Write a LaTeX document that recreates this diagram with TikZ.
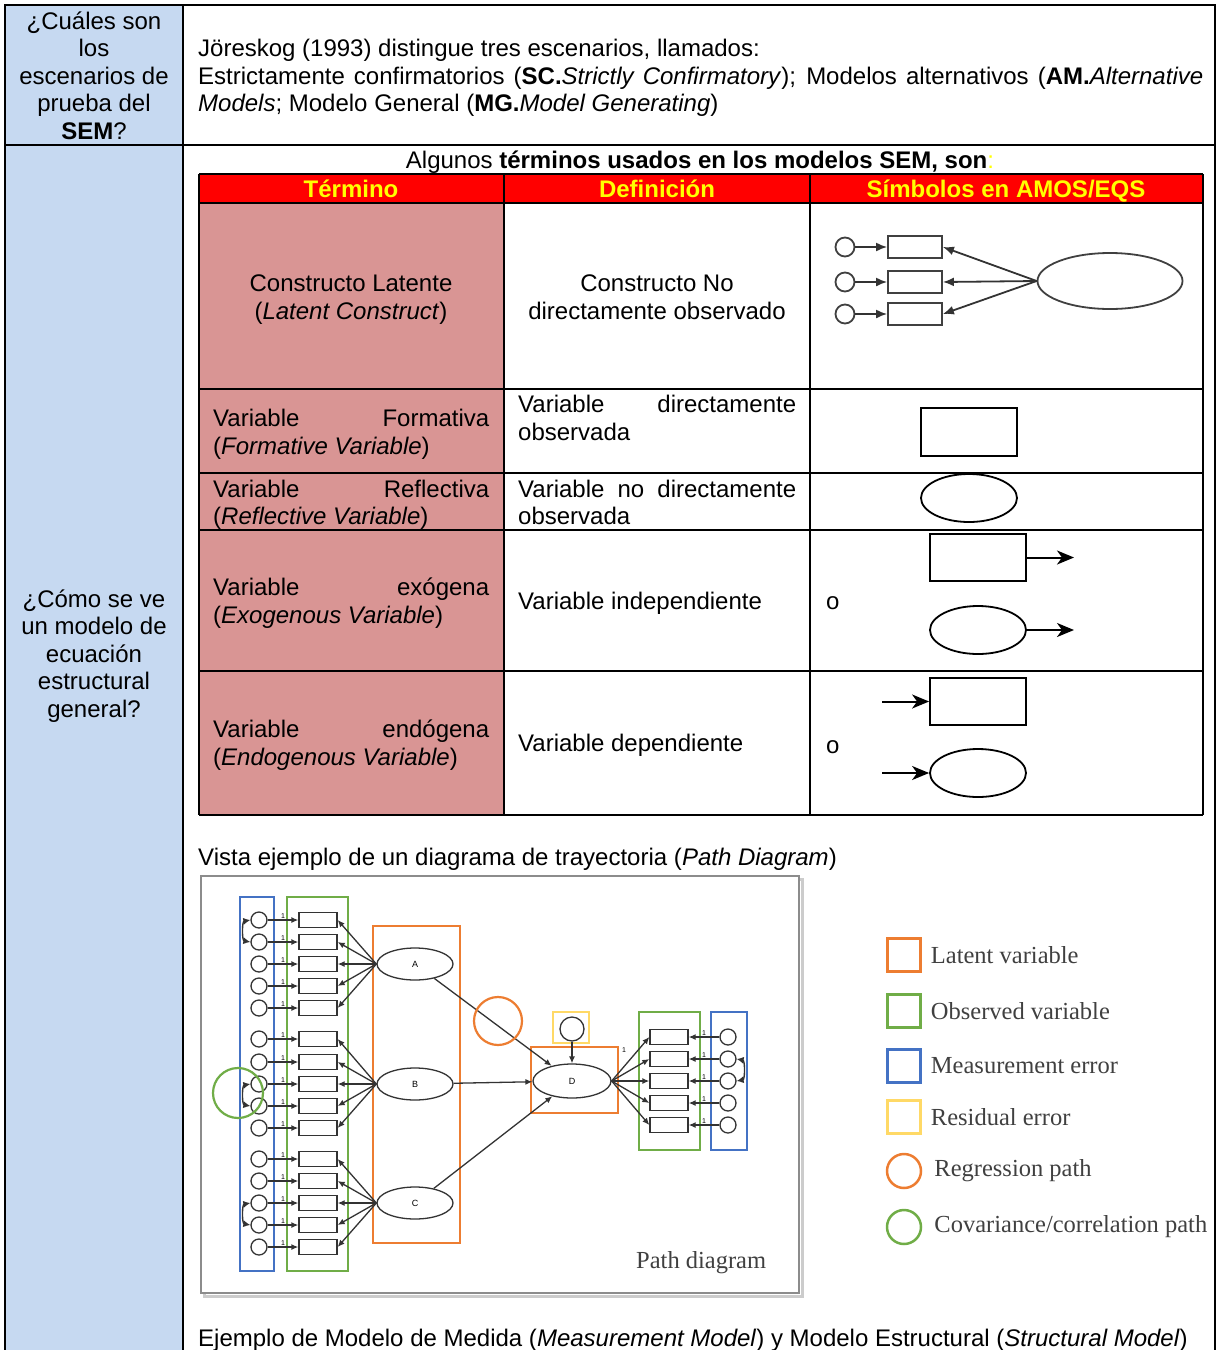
\documentclass[tikz,border=0pt]{standalone}
\usepackage{fontspec}
\setmainfont{Liberation Sans}
\newfontfamily\legendfont{Liberation Serif}
\usetikzlibrary{arrows,arrows.meta,positioning,calc,shapes.geometric}

\definecolor{cellblue}{HTML}{C6D9F1}
\definecolor{cellpink}{HTML}{D99594}
\definecolor{headred}{HTML}{FF0000}
\definecolor{headyellow}{HTML}{FFFF00}
\definecolor{latorange}{HTML}{ED7D31}
\definecolor{obsgreen}{HTML}{70AD47}
\definecolor{errblue}{HTML}{4472C4}
\definecolor{resyellow}{HTML}{FFD966}

\tikzset{
  rule/.style={line width=2pt},
  txt/.style={inner sep=0pt, anchor=base, font=\fontsize{24}{27.6}\selectfont},
  txtl/.style={txt, anchor=base west},
  hdr/.style={txt, text=headyellow, font=\fontsize{24}{27.6}\selectfont\bfseries},
  sym/.style={draw, line width=1.8pt, inner sep=0pt},
  symarr/.style={line width=2pt, -{Stealth[length=17pt,width=14pt,inset=5pt]}},
  amosobs/.style={draw=black!75, line width=1.8pt, rectangle, inner sep=0pt, minimum width=54pt, minimum height=22pt},
  amoserr/.style={draw=black!75, line width=1.8pt, circle, inner sep=0pt, minimum size=19pt},
  amosarr/.style={black!80, line width=1.8pt, -{Latex[length=11pt,width=9pt]}},
  pobs/.style={draw=black!80, line width=1.3pt, rectangle, inner sep=0pt, minimum width=38pt, minimum height=15pt},
  perr/.style={draw=black!80, line width=1.3pt, circle, inner sep=0pt, minimum size=16pt},
  plat/.style={draw=black!80, line width=1.3pt, ellipse, inner sep=0pt, minimum width=76pt, minimum height=32pt, font=\fontsize{9}{10}\selectfont},
  parr/.style={draw=black!80, line width=1.3pt, -{Latex[length=7pt,width=6pt]}},
  pcov/.style={draw=black!80, line width=1.4pt, {Latex[length=7pt,width=7pt]}-{Latex[length=7pt,width=7pt]}},
  one/.style={font=\fontsize{7}{8}\selectfont, inner sep=1pt},
  frame/.style={line width=2.5pt},
  keytext/.style={inner sep=0pt, text=black!75, font=\legendfont\fontsize{24.5}{28}\selectfont}
}

\begin{document}
\begin{tikzpicture}[x=1pt,y=-1pt]
\useasboundingbox (0,0) rectangle (1217,1350);

% outer table
\fill[cellblue] (5,5) rectangle (183,1352);
\draw[rule] (5,1352) -- (5,5) -- (1215,5) -- (1215,1352);
\draw[rule] (183,5) -- (183,1352);
\draw[rule] (5,145) -- (1215,145);

\foreach \t [count=\i] in {¿Cuáles son,los,escenarios de,prueba del,\textbf{SEM}?}
  \node[txt] (ask\i) at (94,{29+27.5*(\i-1)}) {\t};
\foreach \t [count=\i] in {¿Cómo se ve,un modelo de,ecuación,estructural,general?}
  \node[txt] (how\i) at (94,{607+27.5*(\i-1)}) {\t};

\node[txtl] (jor1) at (198,56) {Jöreskog (1993) distingue tres escenarios, llamados:};
\node[txtl] (jor2) at (198,84) {\makebox[1005pt][s]{Estrictamente confirmatorios (\textbf{SC.}\textit{Strictly Confirmatory}); Modelos alternativos (\textbf{AM.}\textit{Alternative}}};
\node[txtl] (jor3) at (198,111) {\textit{Models}; Modelo General (\textbf{MG.}\textit{Model Generating})};

\node[txt] (terms) at (700,168) {Algunos \textbf{términos usados en los modelos SEM, son}\textcolor{headyellow}{:}};

% inner table
\fill[headred] (199,174) rectangle (1203,203);
\fill[cellpink] (199,203) rectangle (504,815);
\foreach \y in {174,203,389,473,530,671,815}
  \draw[rule] (199,\y) -- (1203,\y);
\foreach \x in {199,504,810,1203}
  \draw[rule] (\x,174) -- (\x,815);

\foreach \x/\t [count=\i] in {351/Término,657/Definición,1006/{Símbolos en AMOS/EQS}}
  \node[hdr] (head\i) at (\x,197) {\t};

\node[txt] (lat1) at (351,291) {Constructo Latente};
\node[txt] (lat2) at (351,319) {(\textit{Latent Construct})};
\node[txt] (latd1) at (657,291) {Constructo No};
\node[txt] (latd2) at (657,319) {directamente observado};

\node[txtl] (form1) at (213,426) {\makebox[276pt][s]{Variable Formativa}};
\node[txtl] (form2) at (213,454) {(\textit{Formative Variable})};
\node[txtl] (formd1) at (518,412) {\makebox[278pt][s]{Variable directamente}};
\node[txtl] (formd2) at (518,440) {observada};

\node[txtl] (refl1) at (213,497) {\makebox[276pt][s]{Variable Reflectiva}};
\node[txtl] (refl2) at (213,524) {(\textit{Reflective Variable})};
\node[txtl] (refld1) at (518,497) {\makebox[278pt][s]{Variable no directamente}};
\node[txtl] (refld2) at (518,524) {observada};

\node[txtl] (exo1) at (213,595) {\makebox[276pt][s]{Variable exógena}};
\node[txtl] (exo2) at (213,623) {(\textit{Exogenous Variable})};
\node[txtl] (exod) at (518,609) {Variable independiente};
\node[txtl] (exoor) at (826,609) {o};

\node[txtl] (endo1) at (213,737) {\makebox[276pt][s]{Variable endógena}};
\node[txtl] (endo2) at (213,765) {(\textit{Endogenous Variable})};
\node[txtl] (endod) at (518,751) {Variable dependiente};
\node[txtl] (endoor) at (826,753) {o};

% AMOS symbols
\node[amosobs, ellipse, minimum width=145pt, minimum height=56pt] (cons) at (1110,281) {};
\foreach \y [count=\i] in {247,282,314} {
  \node[amoserr] (ce\i) at (845,\y) {};
  \node[amosobs] (cm\i) at (915,\y) {};
  \draw[amosarr] (ce\i) -- (cm\i);
  \draw[amosarr] (cons.west) -- (cm\i.east);
}
\node[sym, rectangle, minimum width=96pt, minimum height=48pt] (formbox) at (969,432) {};
\node[sym, ellipse, minimum width=96pt, minimum height=48pt] (reflell) at (969,498) {};
\node[sym, rectangle, minimum width=96pt, minimum height=47pt] (exobox) at (978,557.5) {};
\node[sym, ellipse, minimum width=96pt, minimum height=48pt] (exoell) at (978,630) {};
\coordinate (exoboxend) at (1074,557.5);
\coordinate (exoellend) at (1074,630);
\draw[symarr] (exobox) -- (exoboxend);
\draw[symarr] (exoell) -- (exoellend);
\node[sym, rectangle, minimum width=96pt, minimum height=47pt] (endbox) at (978,701.5) {};
\node[sym, ellipse, minimum width=96pt, minimum height=48pt] (endell) at (978,773) {};
\coordinate (endboxstart) at (882,701.5);
\coordinate (endellstart) at (882,773);
\draw[symarr] (endboxstart) -- (endbox);
\draw[symarr] (endellstart) -- (endell);

\node[txtl] (vista) at (198,865) {Vista ejemplo de un diagrama de trayectoria (\textit{Path Diagram})};

% path diagram
\draw[black!20, line width=3pt] (204,879) rectangle (802,1296);
\draw[black!45, line width=1.5pt, fill=white] (201,876) rectangle (799,1293);

\draw[frame, errblue] (240,897) rectangle (274,1271);
\draw[frame, obsgreen] (287,897) rectangle (348,1271);
\draw[frame, latorange] (373,926) rectangle (460,1243);

\foreach \lv/\ly/\ys in {A/964/{920,942,964,986,1008},B/1084/{1039,1062,1084,1106,1128},C/1203/{1159,1181,1203,1225,1247}} {
  \node[plat] (l\lv) at (415,\ly) {\lv};
  \foreach \y [count=\i] in \ys {
    \node[perr] (e\lv\i) at (259,\y) {};
    \node[pobs] (x\lv\i) at (318,\y) {};
    \draw[parr] (e\lv\i) -- (x\lv\i) node[one, midway, above] (o\lv\i) {1};
    \draw[parr] (l\lv.west) -- (x\lv\i.east);
  }
}
\draw[pcov] (eA1.west) to[bend right=80] (eA2.west);
\draw[pcov] (eB3.west) to[bend right=80] (eB4.west);
\draw[pcov] (eC3.west) to[bend right=80] (eC4.west);

\node[draw=obsgreen, line width=2.2pt, circle, minimum size=50pt] (covmark) at (238,1093) {};

\node[plat, minimum width=78pt, minimum height=34pt] (lD) at (572,1081) {D};
\draw[frame, latorange] (531,1047) rectangle (618,1113);
\draw[frame, resyellow] (553,1012) rectangle (589,1043);
\node[perr, minimum size=24pt] (res) at (572,1029) {};
\draw[parr] (res) -- (lD);
\foreach \lv in {A,B,C}
  \draw[parr] (l\lv) -- (lD);
\node[draw=latorange, line width=2.2pt, circle, minimum size=48pt] (regmark) at (498,1021) {};

\draw[frame, obsgreen] (639,1012) rectangle (700,1150);
\draw[frame, errblue] (711,1012) rectangle (747,1150);
\foreach \y [count=\i] in {1037,1059,1081,1103,1125} {
  \node[pobs] (xD\i) at (669,\y) {};
  \node[perr] (eD\i) at (728,\y) {};
  \draw[parr] (lD.east) -- (xD\i.west);
  \draw[parr] (eD\i) -- (xD\i) node[one, midway, above] (oD\i) {1};
}
\node[one] (oDl) at (624,1050) {1};
\draw[pcov] (eD2.east) to[bend left=80] (eD3.east);

\node[keytext, anchor=base west] (pathlbl) at (636,1268) {Path diagram};

% legend
\foreach \y/\c/\t [count=\i] in {955/latorange/Latent variable,1011/obsgreen/Observed variable,1066/errblue/Measurement error,1117/resyellow/Residual error} {
  \node[draw=\c, line width=2.5pt, minimum size=33pt, inner sep=0pt] (key\i) at (904,\y) {};
  \node[keytext, right=9pt of key\i] (keyt\i) {\t};
}
\foreach \y/\c/\t [count=\i] in {1171/latorange/Regression path,1227/obsgreen/{Covariance/correlation path}} {
  \node[draw=\c, line width=2.5pt, circle, minimum size=34pt, inner sep=0pt] (ring\i) at (904,\y) {};
  \node[keytext, right=12pt of ring\i] (ringt\i) {\t};
}

\node[txtl] (ejemplo) at (198,1346) {Ejemplo de Modelo de Medida (\textit{Measurement Model}) y Modelo Estructural (\textit{Structural Model})};
\end{tikzpicture}
\end{document}
